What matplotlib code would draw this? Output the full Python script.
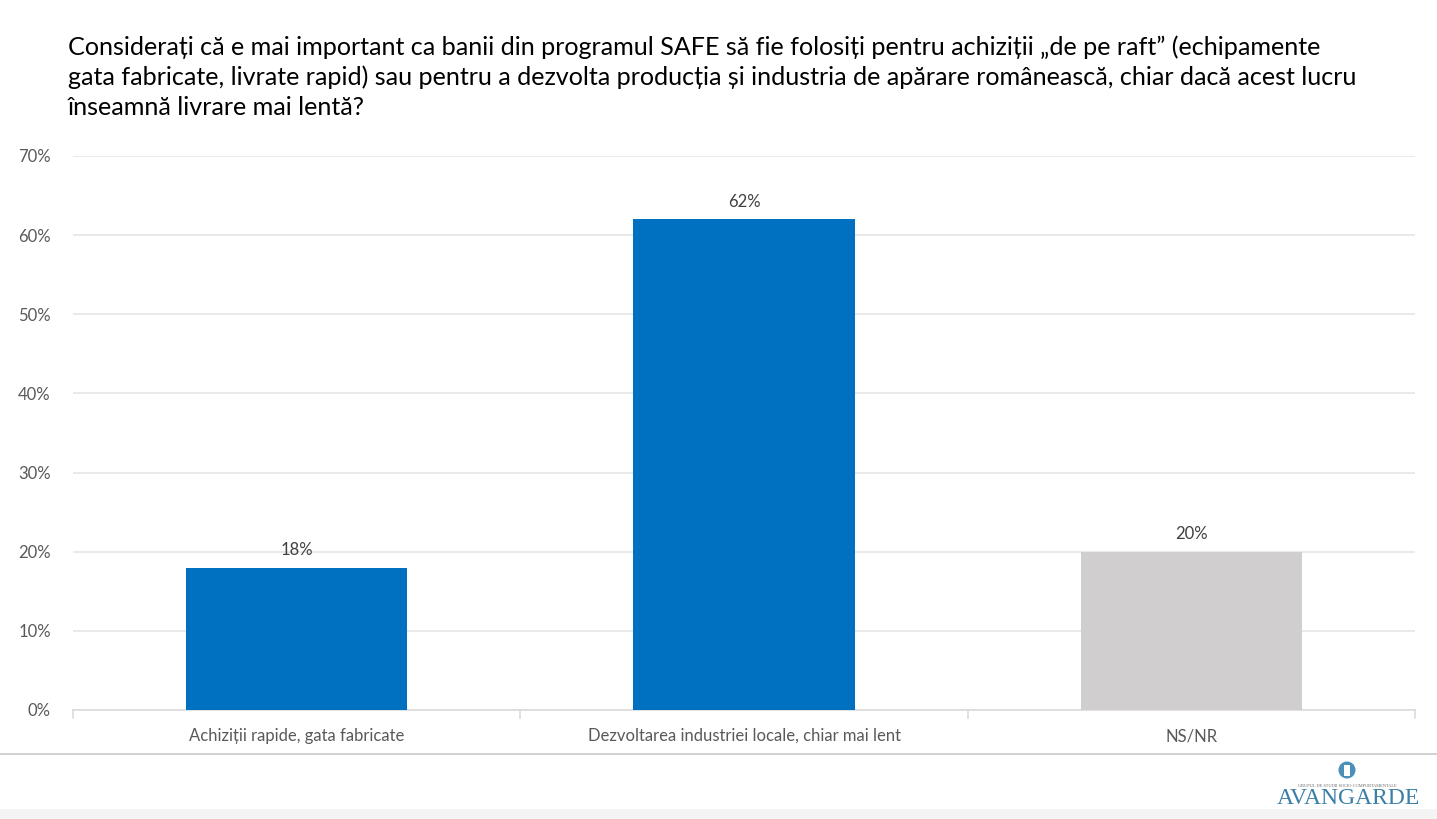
import matplotlib
matplotlib.use("Agg")
import matplotlib.pyplot as plt
from matplotlib.lines import Line2D
from matplotlib.patches import Circle, Rectangle

title = ("Considerați că e mai important ca banii din programul SAFE să fie folosiți pentru achiziții „de pe raft” (echipamente\n"
         "gata fabricate, livrate rapid) sau pentru a dezvolta producția și industria de apărare românească, chiar dacă acest lucru\n"
         "înseamnă livrare mai lentă?")
categories = ["Achiziții rapide, gata fabricate",
              "Dezvoltarea industriei locale, chiar mai lent",
              "NS/NR"]
values = [18, 62, 20]
labels = ["18%", "62%", "20%"]
colors = ["#0070C0", "#0070C0", "#D0CECE"]
yticks = [0, 10, 20, 30, 40, 50, 60, 70]

plt.rcParams['font.family'] = ['Lato', 'DejaVu Sans']

W, H = 1437, 819
fig = plt.figure(figsize=(W/100, H/100), dpi=100)
fig.patch.set_facecolor("white")

ax = fig.add_axes([73/W, 1-710/H, (1415-73)/W, (710-156)/H])
x = list(range(len(categories)))
bars = ax.bar(x, values, width=0.495, color=colors, zorder=3)
ax.set_xlim(-0.5, 2.5)
ax.set_ylim(0, 70)
ax.set_yticks(yticks)
ax.set_yticklabels([f"{v}%" for v in yticks], fontsize=12, color="#595959")
ax.set_xticks(x)
ax.set_xticklabels(categories, fontsize=12, color="#595959")
ax.tick_params(axis='y', length=0, pad=16)
ax.tick_params(axis='x', length=0, pad=13)
ax.grid(axis='y', color="#E3E3E3", linewidth=1.1, zorder=0)
for s in ["top", "right", "left"]:
    ax.spines[s].set_visible(False)
ax.spines["bottom"].set_color("#D9D9D9")
ax.spines["bottom"].set_linewidth(1.1)
# category boundary tick marks
for b in [-0.5, 0.5, 1.5, 2.5]:
    ax.plot([b, b], [0, -1.0], color="#D9D9D9", lw=1.1, clip_on=False, zorder=2)

for xi, v, lab in zip(x, values, labels):
    ax.annotate(lab, (xi, v), xytext=(0, 7), textcoords="offset points",
                ha="center", va="bottom", fontsize=12, color="#404040")

fig.text(68/W, 1-35/H, title, ha="left", va="top", fontsize=18.1,
         color="black", linespacing=1.36)

# separator line and bottom band
fig.add_artist(Line2D([0, 1], [1-754/H, 1-754/H], color="#C8C8C8", lw=1.2))
fig.add_artist(Rectangle((0, 0), 1, 10/H, transform=fig.transFigure,
                         facecolor="#F4F4F4", edgecolor="none"))

# logo
fig.text(1348/W, 1-804/H, "AVANGARDE", ha="center", va="baseline",
         fontsize=17, family="Liberation Serif", color="#3B7FA8")
fig.text(1347/W, 1-787/H, "GRUPUL DE STUDII SOCIO-COMPORTAMENTALE",
         ha="center", va="baseline", fontsize=3.2, family="Liberation Serif",
         color="#6A6A6A")
fig.add_artist(Circle((13.47, (H-770)/100), 0.085, transform=fig.dpi_scale_trans,
                      facecolor="#4A90B8", edgecolor="none"))
fig.add_artist(Rectangle((13.44, (H-776)/100), 0.06, 0.11, transform=fig.dpi_scale_trans,
                         facecolor="white", edgecolor="none"))

fig.savefig("out.png", dpi=100, facecolor="white")
